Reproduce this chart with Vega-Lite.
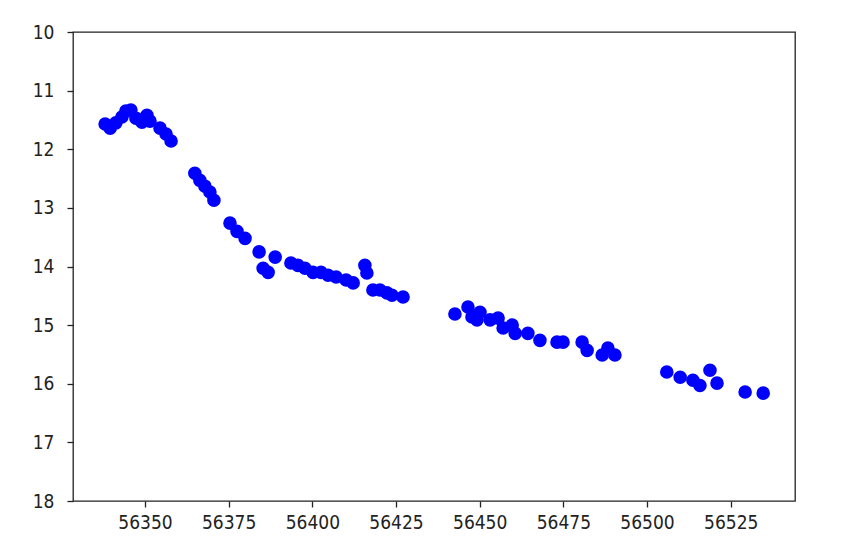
{
  "$schema": "https://vega.github.io/schema/vega-lite/v6.json",
  "autosize": {"type": "none"},
  "padding": {"left": 73, "top": 32, "right": 46, "bottom": 44},
  "width": 722,
  "height": 469,
  "background": "white",
  "data": {
    "values": [
      {"mjd": 56338.1, "mag": 11.57},
      {"mjd": 56339.6, "mag": 11.64},
      {"mjd": 56341.3, "mag": 11.55},
      {"mjd": 56343.1, "mag": 11.45},
      {"mjd": 56344.3, "mag": 11.35},
      {"mjd": 56345.8, "mag": 11.33},
      {"mjd": 56347.3, "mag": 11.47},
      {"mjd": 56349.1, "mag": 11.54},
      {"mjd": 56350.6, "mag": 11.42},
      {"mjd": 56351.5, "mag": 11.52},
      {"mjd": 56354.5, "mag": 11.64},
      {"mjd": 56356.3, "mag": 11.74},
      {"mjd": 56357.8, "mag": 11.86},
      {"mjd": 56364.9, "mag": 12.41},
      {"mjd": 56366.4, "mag": 12.53},
      {"mjd": 56367.9, "mag": 12.63},
      {"mjd": 56369.4, "mag": 12.73},
      {"mjd": 56370.6, "mag": 12.87},
      {"mjd": 56375.4, "mag": 13.26},
      {"mjd": 56377.5, "mag": 13.4},
      {"mjd": 56379.9, "mag": 13.52},
      {"mjd": 56384.1, "mag": 13.75},
      {"mjd": 56385.3, "mag": 14.03},
      {"mjd": 56386.8, "mag": 14.1},
      {"mjd": 56388.9, "mag": 13.84},
      {"mjd": 56393.6, "mag": 13.94},
      {"mjd": 56395.7, "mag": 13.98},
      {"mjd": 56397.8, "mag": 14.03},
      {"mjd": 56400.2, "mag": 14.1},
      {"mjd": 56402.6, "mag": 14.1},
      {"mjd": 56404.7, "mag": 14.15},
      {"mjd": 56407.1, "mag": 14.18},
      {"mjd": 56410.1, "mag": 14.23},
      {"mjd": 56412.2, "mag": 14.28},
      {"mjd": 56415.7, "mag": 13.98},
      {"mjd": 56416.3, "mag": 14.11},
      {"mjd": 56418.1, "mag": 14.4},
      {"mjd": 56420.2, "mag": 14.4},
      {"mjd": 56422.3, "mag": 14.45},
      {"mjd": 56423.8, "mag": 14.49},
      {"mjd": 56427.1, "mag": 14.52},
      {"mjd": 56442.6, "mag": 14.81},
      {"mjd": 56446.5, "mag": 14.69},
      {"mjd": 56447.7, "mag": 14.86},
      {"mjd": 56450.1, "mag": 14.78},
      {"mjd": 56449.2, "mag": 14.91},
      {"mjd": 56453.1, "mag": 14.91},
      {"mjd": 56455.5, "mag": 14.88},
      {"mjd": 56457.0, "mag": 15.05},
      {"mjd": 56459.7, "mag": 15.0},
      {"mjd": 56460.6, "mag": 15.14},
      {"mjd": 56464.4, "mag": 15.14},
      {"mjd": 56468.0, "mag": 15.26},
      {"mjd": 56473.1, "mag": 15.29},
      {"mjd": 56474.9, "mag": 15.29},
      {"mjd": 56480.6, "mag": 15.29},
      {"mjd": 56482.1, "mag": 15.43},
      {"mjd": 56486.6, "mag": 15.51},
      {"mjd": 56488.3, "mag": 15.39},
      {"mjd": 56490.4, "mag": 15.51},
      {"mjd": 56505.9, "mag": 15.8},
      {"mjd": 56509.9, "mag": 15.89},
      {"mjd": 56513.7, "mag": 15.94},
      {"mjd": 56515.8, "mag": 16.03},
      {"mjd": 56518.8, "mag": 15.77},
      {"mjd": 56520.9, "mag": 15.99},
      {"mjd": 56529.3, "mag": 16.14},
      {"mjd": 56534.7, "mag": 16.16}
    ]
  },
  "mark": {"type": "circle", "color": "#0000ff", "opacity": 1, "size": 185},
  "encoding": {
    "x": {
      "field": "mjd",
      "type": "quantitative",
      "title": null,
      "scale": {"domain": [56328.5, 56544.2], "nice": false, "zero": false},
      "axis": {
        "values": [56350, 56375, 56400, 56425, 56450, 56475, 56500, 56525],
        "format": "d"
      }
    },
    "y": {
      "field": "mag",
      "type": "quantitative",
      "title": null,
      "scale": {"domain": [10, 18], "reverse": true, "nice": false, "zero": false},
      "axis": {
        "values": [10, 11, 12, 13, 14, 15, 16, 17, 18],
        "format": "d",
        "labelPadding": 13
      }
    }
  },
  "config": {
    "view": {"stroke": "#222222", "strokeWidth": 1.3},
    "axis": {
      "grid": false,
      "domain": false,
      "tickColor": "#222222",
      "tickWidth": 1.3,
      "tickSize": 6,
      "labelFont": "DejaVu Sans Condensed",
      "labelFontSize": 19,
      "labelColor": "#222222",
      "labelPadding": 6
    }
  }
}
